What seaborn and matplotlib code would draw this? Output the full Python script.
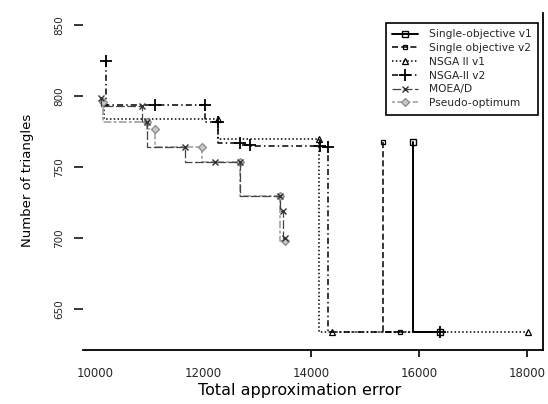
import matplotlib
matplotlib.use("Agg")
import matplotlib.pyplot as plt
import seaborn as sns
import pandas as pd

sns.set_theme(style="white")
plt.rcParams['font.family'] = ['DejaVu Sans']

# ---- data ----
so_v1_x = [15890, 16390]
so_v1_y = [768, 634]
so_v2_x = [15330, 15650]
so_v2_y = [768, 634]
nsga1_x = [10170, 12280, 14150, 14390, 18020]
nsga1_y = [796, 784, 770, 634, 634]
nsga2_x = [10200, 11110, 12040, 12280, 12690, 12870, 14170, 14310, 16390]
nsga2_y = [825, 794, 794, 782, 767, 766, 765, 764, 634]
moead_x = [10110, 10870, 10960, 11670, 12220, 12690, 13430, 13480, 13520]
moead_y = [799, 793, 782, 764, 754, 754, 730, 719, 700]
pseudo_x = [10150, 10960, 11110, 11980, 12690, 13430, 13520]
pseudo_y = [796, 782, 777, 764, 754, 730, 698]

labels = ["Single-objective v1", "Single objective v2", "NSGA II v1",
          "NSGA-II v2", "MOEA/D", "Pseudo-optimum"]
x_ticks = [10000, 12000, 14000, 16000, 18000]
y_ticks = [650, 700, 750, 800, 850]

series = [
    (so_v1_x, so_v1_y, dict(color="black", linestyle="-", lw=1.4, marker="s", ms=5, mfc="none", mec="black", mew=1.0)),
    (so_v2_x, so_v2_y, dict(color="black", linestyle=(0, (4, 2)), lw=1.1, marker="s", ms=3.5, mfc="none", mec="black", mew=0.9)),
    (nsga1_x, nsga1_y, dict(color="black", linestyle=(0, (1, 1.5)), lw=1.1, marker="^", ms=5, mfc="none", mec="black", mew=0.9)),
    (nsga2_x, nsga2_y, dict(color="black", linestyle=(0, (4, 2, 1, 2)), lw=1.1, marker="+", ms=8, mec="black", mew=1.3)),
    (pseudo_x, pseudo_y, dict(color="#9a9a9a", linestyle=(0, (2, 1.5, 5, 1.5)), lw=1.1, marker="D", ms=4, mfc="#c8c8c8", mec="#8a8a8a", mew=0.9)),
    (moead_x, moead_y, dict(color="#444444", linestyle=(0, (7, 2)), lw=0.9, marker="x", ms=5, mec="#333333", mew=1.0)),
]
order_labels = [labels[0], labels[1], labels[2], labels[3], labels[5], labels[4]]

fig = plt.figure(figsize=(5.48, 4.04), dpi=100)
ax = fig.add_axes([83/548, 1-350/404, 460/548, 337/404])

for (xs, ys, st), lab in zip(series, order_labels):
    df = pd.DataFrame({"x": xs, "y": ys})
    sns.lineplot(data=df, x="x", y="y", ax=ax, estimator=None, sort=False,
                 drawstyle="steps-pre", label=lab, legend=False, **st)

ax.set_xlim(9778, 18296)
ax.set_ylim(621.2, 858.8)
ax.set_xticks(x_ticks)
ax.set_xticklabels([str(v) for v in x_ticks], fontsize=8.5)
ax.set_yticks(y_ticks)
ax.set_yticklabels([str(v) for v in y_ticks], fontsize=7.5, rotation=90, va="center")

for s in ["left", "top"]:
    ax.spines[s].set_visible(False)
for s in ["bottom", "right"]:
    ax.spines[s].set_visible(True)
    ax.spines[s].set_color("black")
    ax.spines[s].set_linewidth(1.3)

ax.tick_params(axis="x", direction="out", length=5, width=1.2, color="black", pad=7, bottom=True)
ax.tick_params(axis="y", direction="out", length=6.5, width=1.1, color="black", pad=7, left=True)
ticks = ax.xaxis.get_major_ticks()
ticks[0].tick1line.set_visible(False)
ticks[1].tick1line.set_visible(False)

ax.set_xlabel("Total approximation error", fontsize=11.5, color="black")
ax.xaxis.set_label_coords((300-83)/460, (350-391)/337)
ax.xaxis.label.set_va("center")
ax.set_ylabel("Number of triangles", fontsize=9.5, color="black")
ax.yaxis.set_label_coords((27-83)/460, 0.504)
ax.yaxis.label.set_va("center")

handles, hlabels = ax.get_legend_handles_labels()
hmap = dict(zip(hlabels, handles))
leg = ax.legend([hmap[l] for l in labels], labels,
                loc="upper right", bbox_to_anchor=((538-83)/460, (350-23)/337),
                borderaxespad=0, fontsize=7.7, frameon=True, fancybox=False,
                framealpha=1, edgecolor="black", handlelength=2.4,
                handletextpad=1.0, labelspacing=0.35, borderpad=0.6)
leg.get_frame().set_linewidth(1.2)

fig.savefig("out.png", dpi=100)
